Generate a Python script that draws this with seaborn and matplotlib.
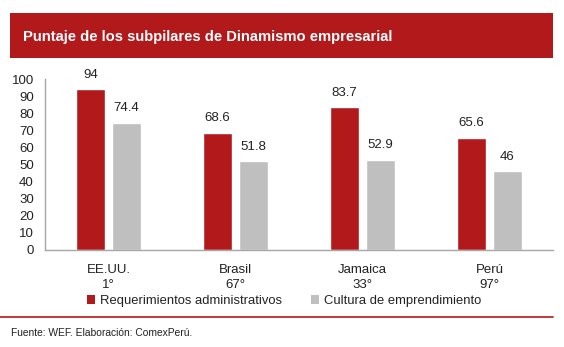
import matplotlib
matplotlib.use("Agg")
import matplotlib.pyplot as plt
import seaborn as sns
import pandas as pd
import numpy as np
from matplotlib.patches import Rectangle
from matplotlib.lines import Line2D

countries = ["EE.UU.\n1°", "Brasil\n67°", "Jamaica\n33°", "Perú\n97°"]
series_names = ["Requerimientos administrativos", "Cultura de emprendimiento"]
req_admin = [94, 68.6, 83.7, 65.6]
cultura = [74.4, 51.8, 52.9, 46]
colors = ["#B2191B", "#BFBFBF"]
yticks = [0, 10, 20, 30, 40, 50, 60, 70, 80, 90, 100]

df = pd.DataFrame({
    "pais": countries * 2,
    "serie": [series_names[0]] * 4 + [series_names[1]] * 4,
    "valor": req_admin + cultura,
})

sns.set_style("white")
plt.rcParams["font.family"] = ["Liberation Sans", "DejaVu Sans"]

W, H = 564, 347
fig = plt.figure(figsize=(W / 100, H / 100), dpi=100)
ax = fig.add_axes([45 / W, (H - 250) / H, (553 - 45) / W, (250 - 79) / H])

sns.barplot(data=df, x="pais", y="valor", hue="serie", palette=colors,
            width=0.56, gap=0.18, ax=ax, legend=False, saturation=1)

for cont in ax.containers:
    ax.bar_label(cont, labels=[f"{v:g}" for v in cont.datavalues],
                 padding=6, fontsize=9.5, color="#222222")

ax.set_ylim(0, 100)
ax.set_yticks(yticks)
ax.set_xlim(-0.5, 3.5)
ax.set_xlabel("")
ax.set_ylabel("")
ax.tick_params(axis="y", labelsize=9.5, length=3, color="#A6A6A6", pad=5)
ax.tick_params(axis="x", which="major", length=0, labelsize=9.5, pad=10)
ax.set_xticks([0.5, 1.5, 2.5, 3.5], minor=True)
ax.tick_params(axis="x", which="minor", length=4, color="#A6A6A6")
for lbl in ax.get_yticklabels():
    lbl.set_color("#222222")
for lbl in ax.get_xticklabels():
    lbl.set_color("#222222")
    lbl.set_linespacing(1.4)
sns.despine(ax=ax)
for s in ["left", "bottom"]:
    ax.spines[s].set_color("#A6A6A6")
    ax.spines[s].set_linewidth(1)

# Title band
fig.patches.append(Rectangle((10 / W, (H - 58) / H), (553 - 10) / W, 45 / H,
                             transform=fig.transFigure, facecolor="#B2191B",
                             edgecolor="none", zorder=0))
fig.text(23 / W, (H - 37) / H, "Puntaje de los subpilares de Dinamismo empresarial",
         color="white", fontsize=10.6, fontweight="bold", va="center", ha="left")

# Legend
handles = [Rectangle((0, 0), 1, 1, facecolor=c, edgecolor="none") for c in colors]
fig.legend(handles, series_names, loc="center", bbox_to_anchor=(284 / W, (H - 301) / H),
           ncol=2, frameon=False, fontsize=9.4, handlelength=0.6, handleheight=0.6,
           handletextpad=0.4, columnspacing=2.2, labelcolor="#222222")

# Bottom line and footer
fig.add_artist(Line2D([0, 553 / W], [(H - 317) / H] * 2, transform=fig.transFigure,
                      color="#C0282B", linewidth=1.3))
fig.text(11 / W, (H - 333) / H, "Fuente: WEF. Elaboración: ComexPerú.",
         fontsize=7.4, color="#222222", va="center", ha="left")

fig.savefig("out.png", dpi=100)
